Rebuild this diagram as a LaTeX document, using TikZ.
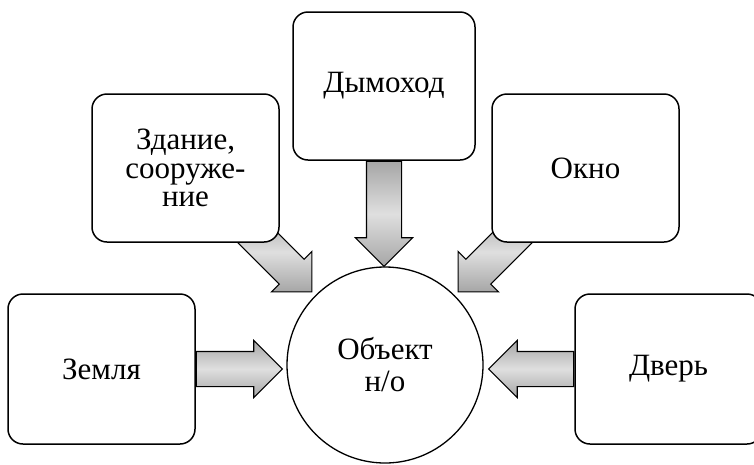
\documentclass[tikz,border=0pt]{standalone}
\usepackage{fontspec}
\setmainfont{Liberation Serif}
\usetikzlibrary{shapes.arrows}

\begin{document}
\begin{tikzpicture}
		[x=1pt,y=-1pt,
		block/.style={draw,fill=white,line width=1.5pt,rounded corners=15pt,
minimum width=187pt,minimum height=150pt,inner sep=2pt,align=center,
font=\fontsize{31}{28.5}\selectfont},
		hub/.style={circle,draw,fill=white,line width=1.3pt,minimum size=196pt,
inner sep=0pt,align=center,font=\fontsize{31}{32}\selectfont},
		blockarrow/.style={single arrow,draw,line width=1.1pt,inner sep=0pt,
text height=34pt,text depth=0pt,single arrow head extend=11pt,
top color=gray!70,bottom color=gray!70,middle color=gray!25}]
		\useasboundingbox (0,0) rectangle (754,464);
		\node at (385,365) (obj) [hub] {Объект\\н/о};
		% diagonal arrows go under the boxes
		\node at ([shift={(135:4pt)}]obj.135) (a2) [blockarrow,rotate=-45,anchor=tip,minimum height=95pt] {};
		\node at ([shift={(45:4pt)}]obj.45) (a4) [blockarrow,rotate=-135,anchor=tip,minimum height=95pt] {};
		\node at (101.5,369) (zem) [block] {Земля};
		\node at (185.5,168) (zd) [block,minimum height=148pt] {Здание,\\сооруже-\\ние};
		\node at (384,86) (dym) [block,minimum width=182pt,minimum height=148pt] {Дымоход};
		\node at (585.5,168) (okno) [block,minimum height=148pt] {Окно};
		\node at (668.5,369) (dver) [block] {Дверь};
		\node at (zem.east) (a1) [blockarrow,anchor=tail,minimum height=86pt] {};
		\node at (dym.south) (a3) [blockarrow,rotate=-90,anchor=tail,minimum height=105pt] {};
		\node at (dver.west) (a5) [blockarrow,rotate=180,anchor=tail,minimum height=85pt] {};
	\end{tikzpicture}
\end{document}
